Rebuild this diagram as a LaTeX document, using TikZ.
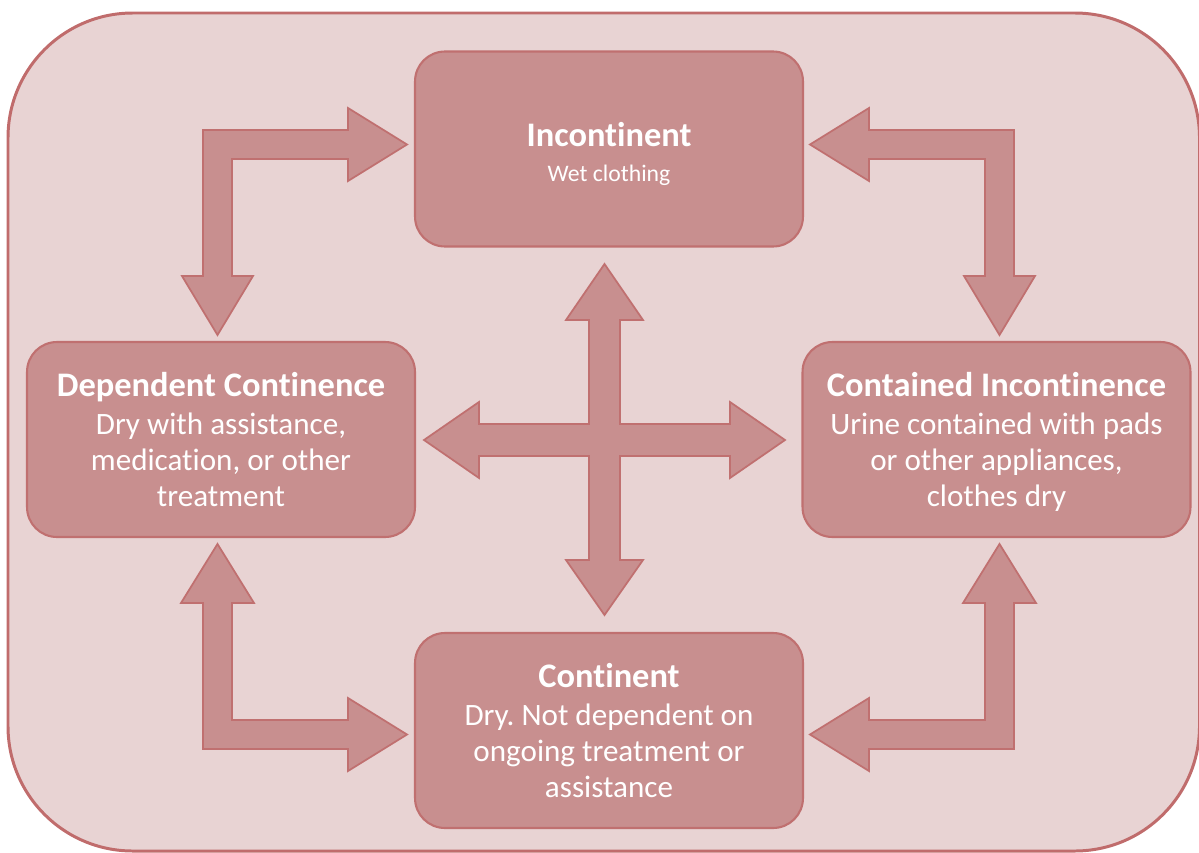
\documentclass[tikz,border=0pt]{standalone}
\usepackage{fontspec}
\setmainfont{Carlito}[Ligatures=NoCommon]
\usepackage{tikz}
\usetikzlibrary{positioning}
\frenchspacing

\definecolor{outerfill}{RGB}{232,211,211}
\definecolor{outerline}{RGB}{192,108,108}
\definecolor{boxfill}{RGB}{200,143,143}
\definecolor{boxline}{RGB}{192,112,112}

\newcommand{\titletxt}{\fontsize{19.6}{20.5}\selectfont\bfseries}
\newcommand{\bodytxt}{\fontsize{17.7}{20.5}\selectfont}
\newcommand{\smalltxt}{\fontsize{13.5}{20.5}\selectfont}
\tikzset{
  statebox/.style={draw=boxline, fill=boxfill, line width=1.2pt, rounded corners=17pt,
    minimum width=7.76cm, minimum height=3.9cm},
  statetext/.style={text=white, align=center, font=\bodytxt},
  blockarrow/.style={draw=boxline, fill=boxfill, line width=1pt, line join=miter},
}

\begin{document}
\begin{tikzpicture}[x=0.02cm,y=-0.02cm]
	\useasboundingbox (0,0) rectangle (1199,852);
	\draw[fill=outerfill, draw=outerline, line width=1.7pt, rounded corners=71pt] (8,13) rectangle (1199.5,851);
	
	% states
	\node[statebox] (inc) at (609,149) {};
	\node[statebox] (dep) at (221,439.5) {};
	\node[statebox] (cont) at (996.5,439.5) {};
	\node[statebox] (con) at (609,730.5) {};
	\node[statetext] (inctxt) at (609,154) {{\titletxt Incontinent}\\[-0.5pt]{\smalltxt Wet clothing}};
	\node[statetext] (deptxt) at (221,439.5) {{\titletxt Dependent Continence}\\[1.5pt]Dry with assistance,\\medication, or other\\treatment};
	\node[statetext] (conttxt) at (996.5,442) {{\titletxt Contained Incontinence}\\[1.5pt]Urine contained with pads\\or other appliances,\\clothes dry};
	\node[statetext] (contxt) at (609,730.5) {{\titletxt Continent}\\[1.5pt]Dry. Not dependent on\\ongoing treatment or\\assistance};
	
	% bent arrows
	\draw[blockarrow] (407,144.5) -- (348,108) -- (348,130) -- (203,130) -- (203,276) -- (182,276) -- (217.5,335) -- (253,276) -- (232,276) -- (232,159) -- (348,159) -- (348,181) -- cycle;
	\draw[blockarrow] (810,144.5) -- (869,108) -- (869,130) -- (1014,130) -- (1014,276) -- (1035,276) -- (999.5,335) -- (964,276) -- (985,276) -- (985,159) -- (869,159) -- (869,181) -- cycle;
	\draw[blockarrow] (217.5,544) -- (254,603) -- (232,603) -- (232,720) -- (348,720) -- (348,698) -- (407,734.5) -- (348,771) -- (348,749) -- (203,749) -- (203,603) -- (181,603) -- cycle;
	\draw[blockarrow] (999.5,544) -- (963,603) -- (985,603) -- (985,720) -- (869,720) -- (869,698) -- (810,734.5) -- (869,771) -- (869,749) -- (1014,749) -- (1014,603) -- (1036,603) -- cycle;
	
	% cross in the middle
	\draw[blockarrow] (604.5,264) -- (643,320) -- (620,320) -- (620,424) -- (730,424) -- (730,402) -- (785,440) -- (730,478) -- (730,456) -- (620,456) -- (620,560) -- (643,560) -- (604.5,615) -- (566,560) -- (589,560) -- (589,456) -- (479,456) -- (479,478) -- (424,440) -- (479,402) -- (479,424) -- (589,424) -- (589,320) -- (566,320) -- cycle;
\end{tikzpicture}
\end{document}
